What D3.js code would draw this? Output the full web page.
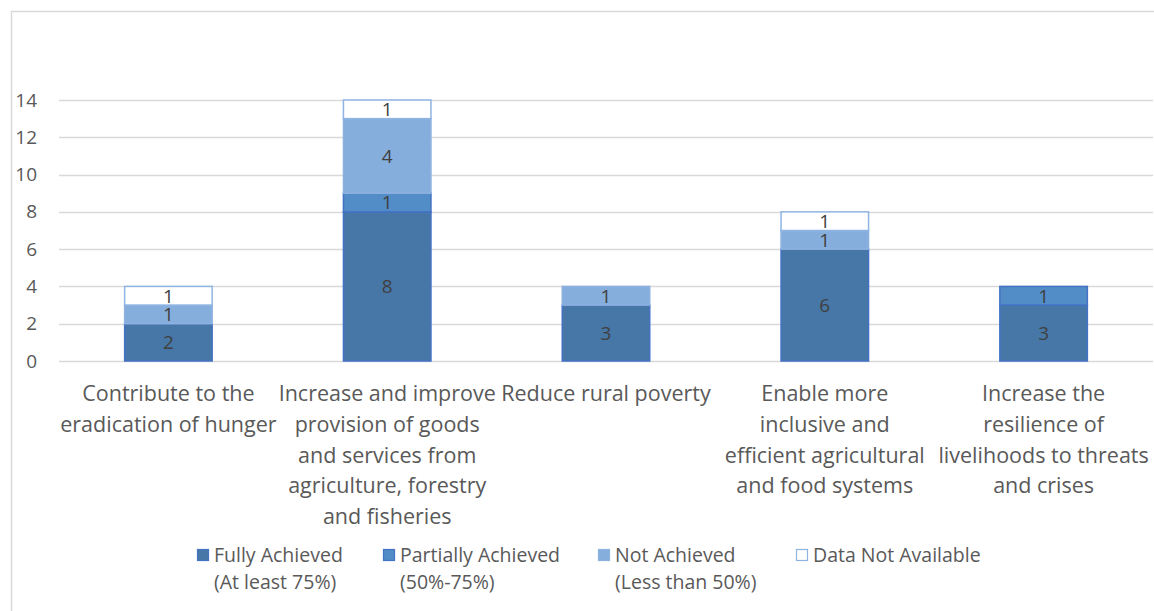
<!DOCTYPE html>
<html>
<head>
<meta charset="utf-8">
<script src="https://cdnjs.cloudflare.com/ajax/libs/d3/7.8.5/d3.min.js"></script>
<style>
  body { margin: 0; background: #fff; }
  text { font-family: "Open Sans", sans-serif; }
</style>
</head>
<body>
<div class="chart"></div>
<script>
// categories, one label line per array entry
var categories = [
    ["Contribute to the", "eradication of hunger"],
    ["Increase and improve", "provision of goods", "and services from", "agriculture, forestry", "and fisheries"],
    ["Reduce rural poverty"],
    ["Enable more", "inclusive and", "efficient agricultural", "and food systems"],
    ["Increase the", "resilience of", "livelihoods to threats", "and crises"]
];
var fullyAchieved = [2, 8, 3, 6, 3];
var partiallyAchieved = [0, 1, 0, 0, 1];
var notAchieved = [1, 4, 1, 1, 0];
var dataNotAvailable = [1, 1, 0, 1, 0];
var seriesNames = [
    ["Fully Achieved", "(At least 75%)"],
    ["Partially Achieved", "(50%-75%)"],
    ["Not Achieved", "(Less than 50%)"],
    ["Data Not Available"]
];
var yTicks = [0, 2, 4, 6, 8, 10, 12, 14];

var fills = ["#4677a7", "#528dc7", "#86aedd", "#ffffff"];
var strokes = ["#4472c4", "#4472c4", "#8db2e0", "#8eb4e3"];

var width = 1154, height = 611;
var svg = d3.select(".chart").append("svg")
    .attr("width", width)
    .attr("height", height);

// chart frame
svg.append("rect")
    .attr("x", 11.5).attr("y", 11.5)
    .attr("width", 1160).attr("height", 620)
    .attr("fill", "none")
    .attr("stroke", "#d9d9d9")
    .attr("stroke-width", 1.5);

var keys = ["f", "p", "n", "d"];
var rows = categories.map(function (c, i) {
    return { i: i, f: fullyAchieved[i], p: partiallyAchieved[i], n: notAchieved[i], d: dataNotAvailable[i] };
});
var stacked = d3.stack().keys(keys)(rows);

var x = d3.scaleBand()
    .domain(d3.range(categories.length))
    .range([59, 1153])
    .paddingInner(0.6)
    .paddingOuter(0.3);
var y = d3.scaleLinear()
    .domain([0, 14])
    .range([361, 100]);

// gridlines
svg.append("g")
    .selectAll("line")
    .data(yTicks)
    .enter()
    .append("line")
    .attr("x1", 59).attr("x2", 1153)
    .attr("y1", function (d) { return Math.round(y(d)) + 0.5; })
    .attr("y2", function (d) { return Math.round(y(d)) + 0.5; })
    .attr("stroke", "#d9d9d9")
    .attr("stroke-width", 1.5);

// y axis labels
var yAxis = svg.append("g")
    .attr("transform", "translate(44,0)")
    .call(d3.axisLeft(y).tickValues(yTicks).tickSize(0).tickPadding(7));
yAxis.select(".domain").remove();
yAxis.selectAll("text")
    .attr("font-family", "'Open Sans', sans-serif")
    .attr("font-size", 19)
    .attr("fill", "#595959");

// bars
var layers = svg.selectAll(".layer")
    .data(stacked)
    .enter()
    .append("g")
    .attr("class", "layer");

layers.selectAll("rect")
    .data(function (s, k) {
        return s.map(function (d) { return { d: d, k: k }; })
            .filter(function (o) { return o.d[1] - o.d[0] > 0; });
    })
    .enter()
    .append("rect")
    .attr("x", function (o) { return x(o.d.data.i); })
    .attr("width", x.bandwidth())
    .attr("y", function (o) { return y(o.d[1]); })
    .attr("height", function (o) { return y(o.d[0]) - y(o.d[1]); })
    .attr("fill", function (o) { return fills[o.k]; })
    .attr("stroke", function (o) { return strokes[o.k]; })
    .attr("stroke-width", 1.5);

// data labels
layers.selectAll("text")
    .data(function (s, k) {
        return s.filter(function (d) { return d[1] - d[0] > 0; });
    })
    .enter()
    .append("text")
    .attr("x", function (d) { return x(d.data.i) + x.bandwidth() / 2; })
    .attr("y", function (d) { return (y(d[0]) + y(d[1])) / 2; })
    .attr("dy", "0.36em")
    .attr("text-anchor", "middle")
    .attr("font-size", 19)
    .attr("fill", "#404040")
    .text(function (d) { return d[1] - d[0]; });

// category labels
var cat = svg.append("g")
    .selectAll("text")
    .data(categories)
    .enter()
    .append("text")
    .attr("text-anchor", "middle")
    .attr("font-size", 21.5)
    .attr("fill", "#595959")
    .attr("transform", function (d, i) {
        return "translate(" + (x(i) + x.bandwidth() / 2) + ",401)";
    });
cat.selectAll("tspan")
    .data(function (d) { return d; })
    .enter()
    .append("tspan")
    .attr("x", 0)
    .attr("y", function (d, j) { return j * 30.8; })
    .text(function (d) { return d; });

// legend
var legendX = [197, 383, 598, 796];
var legend = svg.append("g")
    .selectAll("g")
    .data(seriesNames)
    .enter()
    .append("g")
    .attr("transform", function (d, i) { return "translate(" + legendX[i] + ",0)"; });
legend.append("rect")
    .attr("x", 0.5).attr("y", 549.5)
    .attr("width", 11).attr("height", 11)
    .attr("fill", function (d, i) { return fills[i]; })
    .attr("stroke", function (d, i) { return strokes[i]; })
    .attr("stroke-width", 1.2);
legend.selectAll("text")
    .data(function (d) { return d; })
    .enter()
    .append("text")
    .attr("x", 17)
    .attr("y", function (d, j) { return 562 + j * 27; })
    .attr("font-size", 19.5)
    .attr("fill", "#595959")
    .text(function (d) { return d; });
</script>
</body>
</html>
